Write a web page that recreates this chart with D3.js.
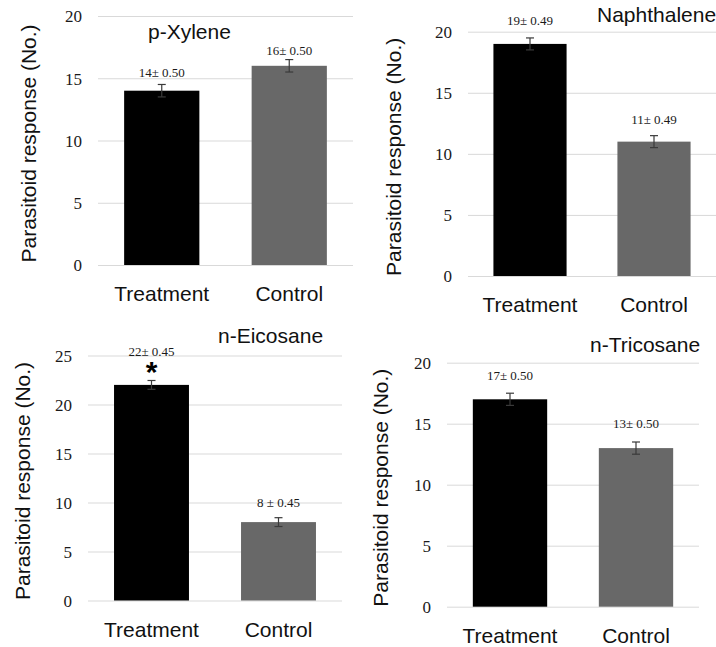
<!DOCTYPE html>
<html>
<head>
<meta charset="utf-8">
<script src="https://cdn.jsdelivr.net/npm/d3@7/dist/d3.min.js"></script>
<style>
  body { margin: 0; background: #fff; }
  svg { display: block; }
  .tick-label { font-family: "Liberation Serif", "Times New Roman", serif; font-size: 17px; fill: #1a1a1a; }
  .value-label { font-family: "Liberation Serif", "Times New Roman", serif; font-size: 13px; fill: #1a1a1a; }
  .axis-title, .cat-label, .panel-title { font-family: "Liberation Sans", Arial, sans-serif; font-size: 21px; fill: #111; }
</style>
</head>
<body>
<svg id="chart" width="716" height="647"></svg>
<script>
// data
const categories = ['Treatment', 'Control'];
const compounds = ['p-Xylene', 'Naphthalene', 'n-Eicosane', 'n-Tricosane'];
const treatmentValues = [14, 19, 22, 17];
const controlValues = [16, 11, 8, 13];
const errorValues = [0.50, 0.49, 0.45, 0.50];
const yMaxValues = [20, 20, 25, 20];
const significant = [false, false, true, false];
const treatmentLabels = ['14± 0.50', '19± 0.49', '22± 0.45', '17± 0.50'];
const controlLabels = ['16± 0.50', '11± 0.49', '8 ± 0.45', '13± 0.50'];
const yTitle = 'Parasitoid response (No.)';

// layout of each panel (pixels)
const panelLayout = [
  { left: 98, right: 353, top: 16, bottom: 265, titleX: 148, titleY: 39, axisTitleX: 36, labelGap: [7.5, 4.6] },
  { left: 468, right: 716, top: 31.7, bottom: 276, titleX: 597, titleY: 22, axisTitleX: 401, labelGap: [13, 12] },
  { left: 88, right: 342, top: 355.5, bottom: 600.5, titleX: 218, titleY: 343, axisTitleX: 30, labelGap: [24, 10.7] },
  { left: 447, right: 699, top: 362.7, bottom: 606.7, titleX: 590, titleY: 352, axisTitleX: 388, labelGap: [13, 13.7] },
];

const barColors = ['#000000', '#686868'];
const svg = d3.select('#chart');

const drawPanel = (i) => {
  const lay = panelLayout[i];
  const g = svg.append('g');
  const values = [treatmentValues[i], controlValues[i]];
  const labels = [treatmentLabels[i], controlLabels[i]];
  const se = errorValues[i];

  const x = d3.scaleBand()
    .domain(categories)
    .range([lay.left, lay.right])
    .paddingInner(0.41)
    .paddingOuter(0.205);

  const y = d3.scaleLinear()
    .domain([0, yMaxValues[i]])
    .range([lay.bottom, lay.top]);

  const ticks = d3.range(0, yMaxValues[i] + 1, 5);

  // gridlines + tick labels
  const axis = g.append('g')
    .attr('transform', `translate(${lay.left},0)`)
    .call(d3.axisLeft(y).tickValues(ticks).tickSize(-(lay.right - lay.left)).tickPadding(16));
  axis.select('.domain').remove();
  axis.selectAll('.tick line').attr('stroke', '#d9d9d9').attr('stroke-width', 1);
  axis.selectAll('.tick text').attr('class', 'tick-label').attr('fill', null).attr('dy', '0.34em');

  // bars
  g.selectAll('rect.bar')
    .data(values)
    .join('rect')
    .attr('class', 'bar')
    .attr('x', (d, j) => x(categories[j]))
    .attr('width', x.bandwidth())
    .attr('y', d => y(d))
    .attr('height', d => y(0) - y(d))
    .attr('fill', (d, j) => barColors[j]);

  // error bars
  const cap = 4;
  values.forEach((v, j) => {
    const cx = x(categories[j]) + x.bandwidth() / 2;
    const eb = g.append('g').attr('stroke', '#3a3a3a').attr('stroke-width', 1.2);
    eb.append('line').attr('x1', cx).attr('x2', cx).attr('y1', y(v + se)).attr('y2', y(v - se));
    eb.append('line').attr('x1', cx - cap).attr('x2', cx + cap).attr('y1', y(v + se)).attr('y2', y(v + se));
    eb.append('line').attr('x1', cx - cap).attr('x2', cx + cap).attr('y1', y(v - se)).attr('y2', y(v - se));

    g.append('text')
      .attr('class', 'value-label')
      .attr('x', cx)
      .attr('y', y(v + se) - lay.labelGap[j])
      .attr('text-anchor', 'middle')
      .text(labels[j]);

    if (j === 0 && significant[i]) {
      g.append('text')
        .attr('x', cx)
        .attr('y', y(v + se) + 2)
        .attr('text-anchor', 'middle')
        .style('font-family', '"Liberation Sans", Arial, sans-serif')
        .style('font-weight', 'bold')
        .style('font-size', '30px')
        .text('*');
    }
  });

  // category labels
  g.selectAll('text.cat-label')
    .data(categories)
    .join('text')
    .attr('class', 'cat-label')
    .attr('x', d => x(d) + x.bandwidth() / 2)
    .attr('y', lay.bottom + 36)
    .attr('text-anchor', 'middle')
    .text(d => d);

  // panel title
  g.append('text')
    .attr('class', 'panel-title')
    .attr('x', lay.titleX)
    .attr('y', lay.titleY)
    .text(compounds[i]);

  // y axis title
  g.append('text')
    .attr('class', 'axis-title')
    .attr('transform', `translate(${lay.axisTitleX},${(lay.top + lay.bottom) / 2 + 3}) rotate(-90)`)
    .attr('text-anchor', 'middle')
    .text(yTitle);
};

compounds.forEach((c, i) => drawPanel(i));
</script>
</body>
</html>
